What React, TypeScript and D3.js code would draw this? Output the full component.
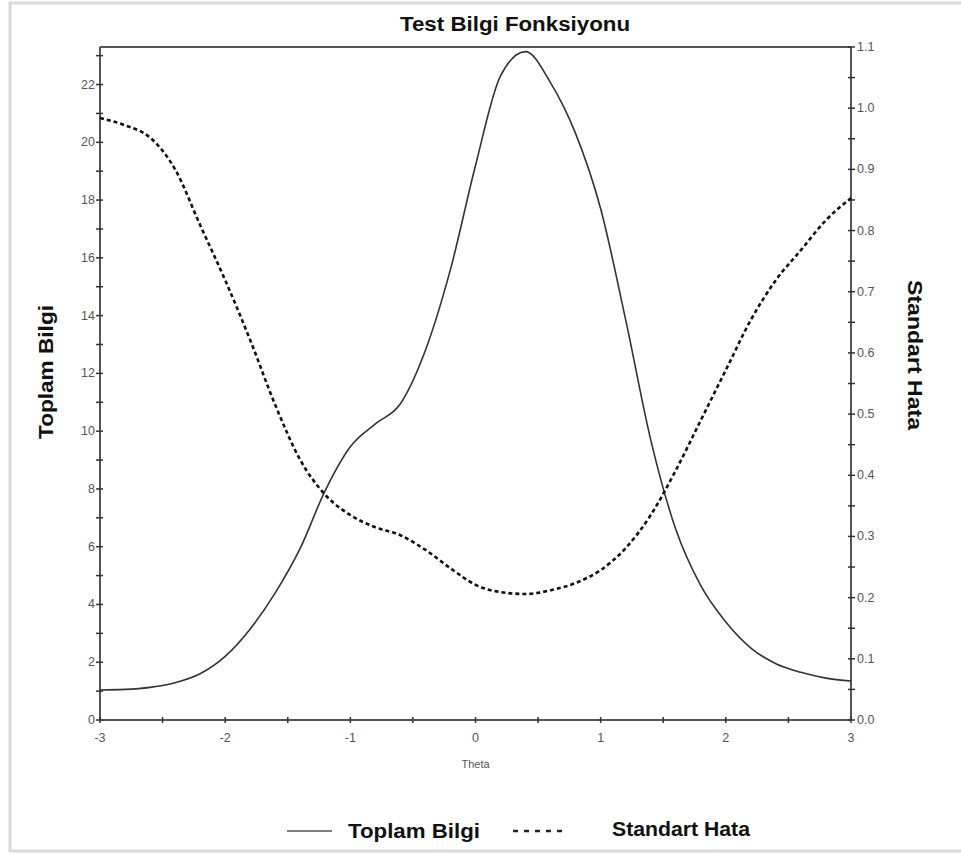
import React from "react";
import * as d3 from "d3";

// Theta grid and the two series read along it
const thetaValues = [
  -3.0, -2.8, -2.6, -2.4, -2.2, -2.0, -1.8, -1.6, -1.4, -1.2, -1.0, -0.8, -0.6, -0.4, -0.2,
  0.0, 0.2, 0.4, 0.6, 0.8, 1.0, 1.2, 1.4, 1.6, 1.8, 2.0, 2.2, 2.4, 2.6, 2.8, 3.0,
];
const toplamBilgi = [
  1.04, 1.06, 1.13, 1.29, 1.6, 2.2, 3.15, 4.4, 5.95, 7.95, 9.46, 10.25, 10.95, 12.8, 15.6,
  19.2, 22.3, 23.14, 22.06, 20.3, 17.7, 13.85, 9.7, 6.6, 4.65, 3.39, 2.49, 1.95, 1.65, 1.45, 1.35,
];
const standartHata = [
  0.984, 0.972, 0.952, 0.9, 0.809, 0.719, 0.621, 0.515, 0.425, 0.368, 0.335, 0.315, 0.302, 0.278,
  0.248, 0.221, 0.209, 0.206, 0.212, 0.224, 0.245, 0.281, 0.335, 0.408, 0.49, 0.572, 0.654,
  0.719, 0.768, 0.817, 0.853,
];

const xTicks = [-3, -2, -1, 0, 1, 2, 3];
const leftTicks = [0, 2, 4, 6, 8, 10, 12, 14, 16, 18, 20, 22];
const rightTicks = [0.0, 0.1, 0.2, 0.3, 0.4, 0.5, 0.6, 0.7, 0.8, 0.9, 1.0, 1.1];

const chartTitle = "Test Bilgi Fonksiyonu";
const xLabel = "Theta";
const leftLabel = "Toplam Bilgi";
const rightLabel = "Standart Hata";

const W = 961;
const H = 854;
const M = { left: 100, right: 851, top: 47, bottom: 720 };

const x = d3.scaleLinear().domain([-3, 3]).range([M.left, M.right]);
const yL = d3.scaleLinear().domain([0, 23.3]).range([M.bottom, M.top]);
const yR = d3.scaleLinear().domain([0, 1.1]).range([M.bottom, M.top]);

const axisColor = "#555";
const tickText = "#555";
const font = "Arial, 'Liberation Sans', sans-serif";

export default function App() {
  const infoLine = d3
    .line<number>()
    .x((_, i) => x(thetaValues[i]))
    .y((d) => yL(d))
    .curve(d3.curveMonotoneX)(toplamBilgi) as string;
  const seLine = d3
    .line<number>()
    .x((_, i) => x(thetaValues[i]))
    .y((d) => yR(d))
    .curve(d3.curveMonotoneX)(standartHata) as string;

  const xMinor = d3.range(-3, 3.001, 0.5);
  const lMinor = d3.range(0, 23.001, 1);
  const rMinor = d3.range(0, 1.1001, 0.05);

  return (
    <svg
      width={W}
      height={H}
      style={{ position: "absolute", left: 0, top: 0, background: "#fff" }}
      fontFamily={font}
    >
      {/* outer frame */}
      <rect x={10} y={3} width={960} height={848} fill="none" stroke="#d9d9d9" strokeWidth={3} />

      <text
        x={400}
        y={31}
        fontSize={20}
        fontWeight="bold"
        fill="#111"
        textLength={230}
        lengthAdjust="spacingAndGlyphs"
      >
        {chartTitle}
      </text>

      {/* plot frame */}
      <g stroke={axisColor} strokeWidth={2} fill="none">
        <line x1={M.left} x2={M.right} y1={M.top} y2={M.top} />
        <line x1={M.left} x2={M.right} y1={M.bottom} y2={M.bottom} />
        <line x1={M.left} x2={M.left} y1={M.top} y2={M.bottom} />
        <line x1={M.right} x2={M.right} y1={M.top} y2={M.bottom} />
      </g>

      {/* tick marks */}
      <g stroke="#333" strokeWidth={1.5}>
        {xMinor.map((t) => (
          <line key={"xm" + t} x1={x(t)} x2={x(t)} y1={M.bottom - 3} y2={M.bottom + 3} />
        ))}
        {lMinor.map((t) => (
          <line key={"lm" + t} x1={M.left - 4} x2={M.left + 3} y1={yL(t)} y2={yL(t)} />
        ))}
        {rMinor.map((t) => (
          <line key={"rm" + t} x1={M.right - 3} x2={M.right + 4} y1={yR(t)} y2={yR(t)} />
        ))}
      </g>

      {/* tick labels */}
      <g fontSize={12.5} fill={tickText}>
        {xTicks.map((t) => (
          <text key={"xl" + t} x={x(t)} y={M.bottom + 22} textAnchor="middle">
            {t}
          </text>
        ))}
        {leftTicks.map((t) => (
          <text key={"ll" + t} x={M.left - 5} y={yL(t) + 4} textAnchor="end">
            {t}
          </text>
        ))}
        {rightTicks.map((t) => (
          <text key={"rl" + t} x={M.right + 6} y={yR(t) + 4} textAnchor="start">
            {t.toFixed(1)}
          </text>
        ))}
      </g>

      <text x={x(0)} y={768} textAnchor="middle" fontSize={11} fill={tickText}>
        {xLabel}
      </text>
      <text
        transform={`translate(53,372) rotate(-90)`}
        textAnchor="middle"
        fontSize={20}
        fontWeight="bold"
        fill="#111"
        textLength={134}
        lengthAdjust="spacingAndGlyphs"
      >
        {leftLabel}
      </text>
      <text
        transform={`translate(908,355) rotate(90)`}
        textAnchor="middle"
        fontSize={20}
        fontWeight="bold"
        fill="#111"
        textLength={150}
        lengthAdjust="spacingAndGlyphs"
      >
        {rightLabel}
      </text>

      {/* series */}
      <path d={infoLine} fill="none" stroke="#333" strokeWidth={1.6} />
      <path d={seLine} fill="none" stroke="#111" strokeWidth={2.6} strokeDasharray="4 3" />

      {/* legend */}
      <line x1={287} x2={332} y1={831} y2={831} stroke="#555" strokeWidth={1.6} />
      <text
        x={348}
        y={838}
        fontSize={20}
        fontWeight="bold"
        fill="#111"
        textLength={132}
        lengthAdjust="spacingAndGlyphs"
      >
        {leftLabel}
      </text>
      <line x1={513} x2={567} y1={831} y2={831} stroke="#222" strokeWidth={2.4} strokeDasharray="5 6" />
      <text
        x={612}
        y={836}
        fontSize={20}
        fontWeight="bold"
        fill="#111"
        textLength={138}
        lengthAdjust="spacingAndGlyphs"
      >
        {rightLabel}
      </text>
    </svg>
  );
}
